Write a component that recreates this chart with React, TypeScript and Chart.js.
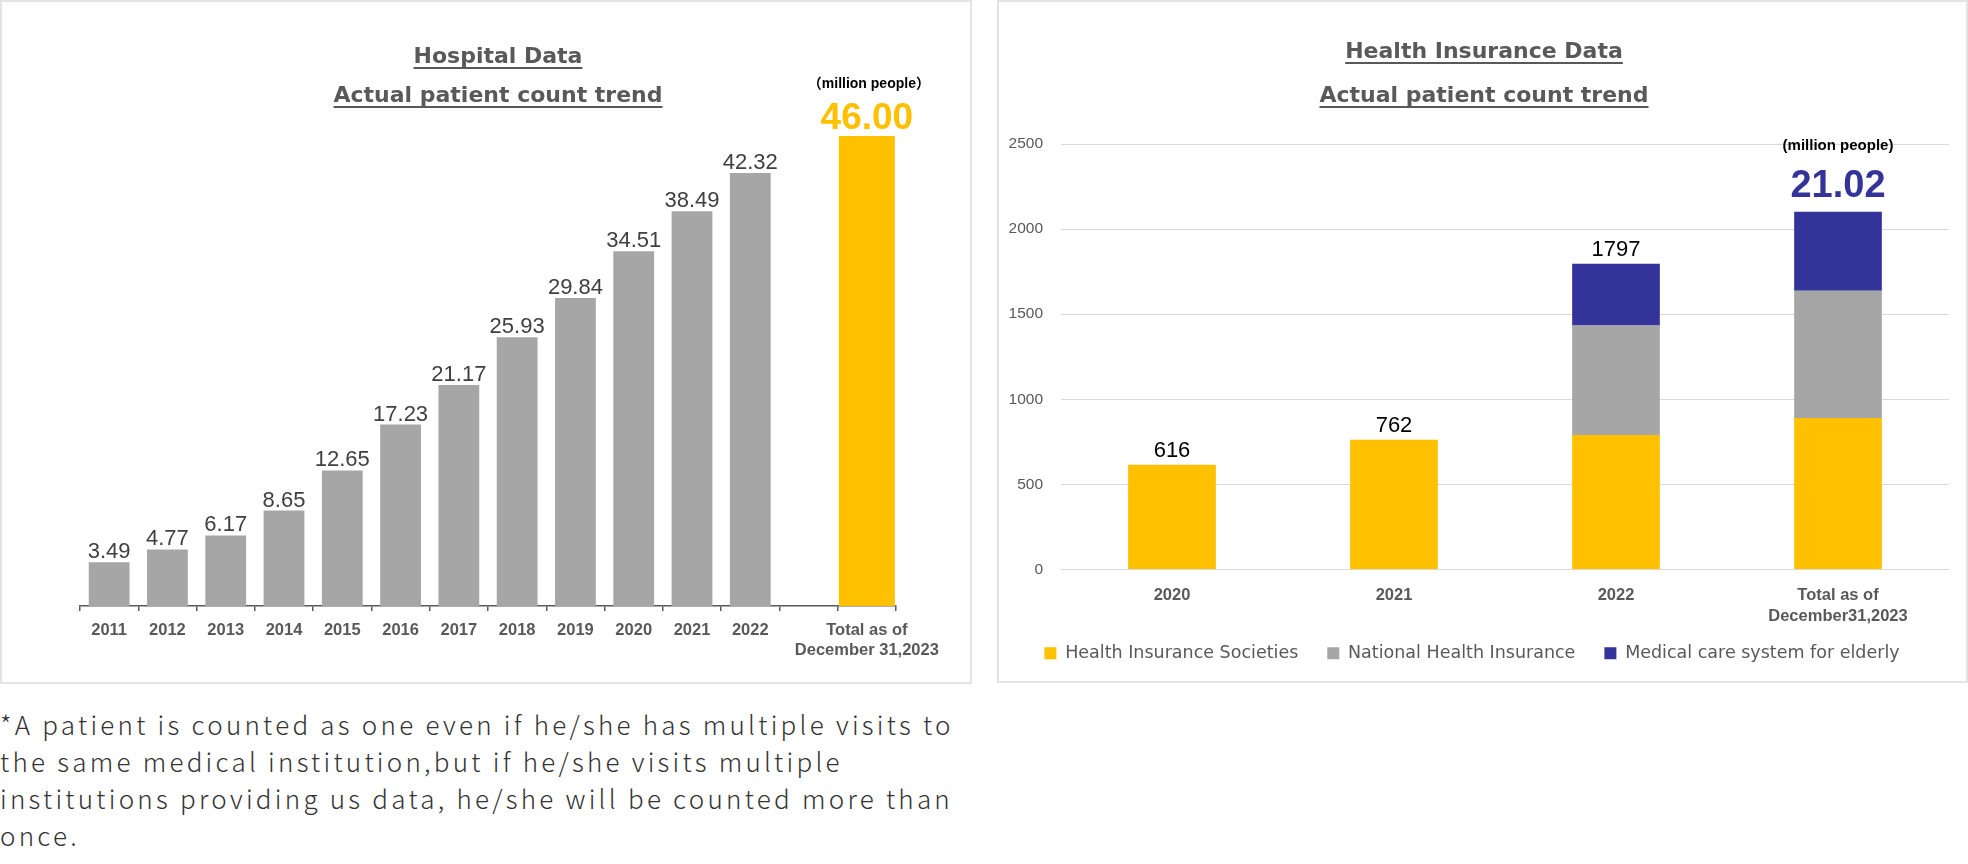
import React, { useEffect, useRef } from "react";
import { Chart, registerables } from "chart.js";

Chart.register(...registerables);

// ---------------- Data ----------------
const hospitalYears = ["2011", "2012", "2013", "2014", "2015", "2016", "2017", "2018", "2019", "2020", "2021", "2022"];
const hospitalPatients = [3.49, 4.77, 6.17, 8.65, 12.65, 17.23, 21.17, 25.93, 29.84, 34.51, 38.49, 42.32];
const hospitalTotalLabel = ["Total as of", "December 31,2023"];
const hospitalTotal = 46.0;
const hospitalUnit = "（million people）";

const insuranceCategories = ["2020", "2021", "2022", ["Total as of", "December31,2023"]];
const insuranceSocieties = [616, 762, 790, 890];
const nationalHealthInsurance = [null, null, 644, 748];
const elderlyCareSystem = [null, null, 363, 464];
const insuranceSeriesNames = ["Health Insurance Societies", "National Health Insurance", "Medical care system for elderly"];
const insuranceUnit = "(million people)";
const insuranceTicks = [0, 500, 1000, 1500, 2000, 2500];

const hospitalTitle = ["Hospital Data", "Actual patient count trend"];
const insuranceTitle = ["Health Insurance Data", "Actual patient count trend"];
const footnoteLines = [
  "*A patient is counted as one even if he/she has multiple visits to",
  "the same medical institution,but if he/she visits multiple",
  "institutions providing us data, he/she will be counted more than",
  "once.",
];

// ---------------- Styles ----------------
const LIB = "'Liberation Sans', Arial, sans-serif";
const YELLOW = "#FFC000";
const GRAY = "#A6A6A6";
const BLUE = "#333399";
const TEXT_GRAY = "#595959";

const HOSP_MIN = -0.87;
const HOSP_MAX = 46.6;

function HospitalChart() {
  const ref = useRef<HTMLCanvasElement | null>(null);
  useEffect(() => {
    if (!ref.current) return;
    const labels: any[] = [...hospitalYears, "", hospitalTotalLabel];
    const grayData: (number | null)[] = [...hospitalPatients, null, null];
    const totalData: (number | null)[] = labels.map((_, i) => (i === labels.length - 1 ? hospitalTotal : null));

    const labelPlugin = {
      id: "hospitalLabels",
      afterDatasetsDraw(chart: any) {
        const ctx = chart.ctx;
        ctx.save();
        ctx.textAlign = "center";
        ctx.textBaseline = "alphabetic";
        ctx.fillStyle = "#404040";
        ctx.font = `22px ${LIB}`;
        chart.getDatasetMeta(0).data.forEach((bar: any, i: number) => {
          const v = grayData[i];
          if (v == null) return;
          ctx.fillText(v.toFixed(2), bar.x, bar.y - 4);
        });
        const tb = chart.getDatasetMeta(1).data[labels.length - 1];
        ctx.fillStyle = YELLOW;
        ctx.font = `bold 37px ${LIB}`;
        ctx.fillText(hospitalTotal.toFixed(2), tb.x, tb.y - 7);
        ctx.fillStyle = "#000000";
        ctx.font = `bold 14px 'Liberation Sans', 'Noto Sans CJK JP', sans-serif`;
        ctx.fillText(hospitalUnit, tb.x + 2, tb.y - 48);
        ctx.restore();
      },
    };

    const chart = new Chart(ref.current, {
      type: "bar",
      data: {
        labels,
        datasets: [
          {
            label: "Hospital",
            data: grayData,
            backgroundColor: GRAY,
            barPercentage: 0.7,
            categoryPercentage: 1,
            grouped: false,
            base: HOSP_MIN,
          } as any,
          {
            label: "Total",
            data: totalData,
            backgroundColor: YELLOW,
            barPercentage: 0.96,
            categoryPercentage: 1,
            grouped: false,
            base: HOSP_MIN,
          } as any,
        ],
      },
      options: {
        responsive: false,
        animation: false,
        devicePixelRatio: 1,
        layout: { padding: { left: 80, right: 76, top: 130, bottom: 0 } },
        plugins: { legend: { display: false }, tooltip: { enabled: false }, title: { display: false } },
        scales: {
          x: {
            offset: true,
            grid: {
              display: true,
              offset: true,
              drawOnChartArea: false,
              drawTicks: true,
              tickLength: 5,
              color: "#595959",
              lineWidth: 1.5,
            },
            border: { display: true, color: "#595959", width: 1.5 },
            ticks: {
              autoSkip: false,
              maxRotation: 0,
              color: TEXT_GRAY,
              padding: 9,
              font: { family: LIB, size: 16.5, weight: "bold", lineHeight: 1.25 },
            },
            afterFit: (s: any) => {
              s.height = 77;
            },
          },
          y: { display: false, min: HOSP_MIN, max: HOSP_MAX },
        },
      } as any,
      plugins: [labelPlugin],
    });
    return () => chart.destroy();
  }, []);
  return <canvas ref={ref} width={972} height={683} style={{ position: "absolute", left: 0, top: 0 }} />;
}

function InsuranceChart() {
  const ref = useRef<HTMLCanvasElement | null>(null);
  useEffect(() => {
    if (!ref.current) return;
    const series = [insuranceSocieties, nationalHealthInsurance, elderlyCareSystem];
    const colors = [YELLOW, GRAY, BLUE];

    const labelPlugin = {
      id: "insuranceLabels",
      afterLayout(chart: any) {
        // let the two-line category label extend below the axis box (no clipping)
        chart.scales.x.bottom = chart.height;
      },
      afterDatasetsDraw(chart: any) {
        const ctx = chart.ctx;
        ctx.save();
        ctx.textAlign = "center";
        ctx.textBaseline = "alphabetic";
        const n = insuranceCategories.length;
        for (let i = 0; i < n; i++) {
          let total = 0;
          let topIdx = 0;
          series.forEach((s, d) => {
            const v = s[i];
            if (v != null) {
              total += v;
              topIdx = d;
            }
          });
          const bar = chart.getDatasetMeta(topIdx).data[i];
          if (i < n - 1) {
            ctx.fillStyle = "#000000";
            ctx.font = `22px ${LIB}`;
            ctx.fillText(String(total), bar.x, bar.y - 7.5);
          } else {
            ctx.fillStyle = BLUE;
            ctx.font = `bold 38px ${LIB}`;
            ctx.fillText((total / 100).toFixed(2), bar.x, bar.y - 14.4);
            ctx.fillStyle = "#000000";
            ctx.font = `bold 15px ${LIB}`;
            ctx.fillText(insuranceUnit, bar.x, bar.y - 62);
          }
        }
        ctx.restore();
      },
    };

    const chart = new Chart(ref.current, {
      type: "bar",
      data: {
        labels: insuranceCategories as any,
        datasets: series.map((s, d) => ({
          label: insuranceSeriesNames[d],
          data: s,
          backgroundColor: colors[d],
          barPercentage: 0.395,
          categoryPercentage: 1,
          stack: "s",
        })) as any,
      },
      options: {
        responsive: false,
        animation: false,
        devicePixelRatio: 1,
        layout: { padding: { left: 0, right: 19, top: 144, bottom: 10 } },
        plugins: {
          tooltip: { enabled: false },
          title: { display: false },
          legend: {
            display: true,
            position: "bottom",
            labels: {
              boxWidth: 12,
              boxHeight: 12,
              padding: 29,
              color: TEXT_GRAY,
              font: { family: "'DejaVu Sans', sans-serif", size: 17.5 },
            },
          },
        },
        scales: {
          x: {
            stacked: true,
            grid: { display: false, drawTicks: false },
            border: { display: false },
            ticks: {
              autoSkip: false,
              maxRotation: 0,
              color: TEXT_GRAY,
              padding: 15,
              font: { family: LIB, size: 16.5, weight: "bold", lineHeight: 1.3 },
            },
            afterFit: (s: any) => {
              s.height = 46;
            },
          },
          y: {
            stacked: true,
            min: 0,
            max: 2500,
            afterBuildTicks: (s: any) => {
              s.ticks = insuranceTicks.map((v) => ({ value: v }));
            },
            grid: { color: "#D9D9D9", lineWidth: 1, drawTicks: false },
            border: { display: false },
            ticks: {
              padding: 18,
              color: TEXT_GRAY,
              font: { family: LIB, size: 15.5 },
              callback: (v: any) => String(v),
            },
            afterFit: (s: any) => {
              s.width = 66;
            },
          },
        },
      } as any,
      plugins: [labelPlugin],
    });
    return () => chart.destroy();
  }, []);
  return <canvas ref={ref} width={973} height={682} style={{ position: "absolute", left: 995, top: 0 }} />;
}

function TitleLine({ text, center, baseline }: { text: string; center: number; baseline: number }) {
  return (
    <div
      style={{
        position: "absolute",
        left: center - 300,
        top: baseline - 22.6,
        width: 600,
        textAlign: "center",
        fontFamily: "'DejaVu Sans', sans-serif",
        fontWeight: "bold",
        fontSize: 22,
        lineHeight: "30px",
        color: TEXT_GRAY,
        whiteSpace: "nowrap",
      }}
    >
      <span
        style={{
          textDecoration: "underline",
          textDecorationThickness: "2px",
          textUnderlineOffset: "4px",
          textDecorationSkipInk: "none" as any,
        }}
      >
        {text}
      </span>
    </div>
  );
}

export default function App() {
  return (
    <div
      style={{
        position: "absolute",
        left: 0,
        top: 0,
        width: 1968,
        height: 864,
        background: "#ffffff",
        overflow: "hidden",
      }}
    >
      <div
        style={{
          position: "absolute",
          left: 0,
          top: 0,
          width: 972,
          height: 684,
          border: "2px solid #E4E4E4",
          boxSizing: "border-box",
        }}
      />
      <div
        style={{
          position: "absolute",
          left: 997,
          top: 0,
          width: 971,
          height: 683,
          border: "2px solid #E4E4E4",
          boxSizing: "border-box",
        }}
      />
      <HospitalChart />
      <InsuranceChart />
      <TitleLine text={hospitalTitle[0]} center={498} baseline={63.5} />
      <TitleLine text={hospitalTitle[1]} center={498} baseline={102.5} />
      <TitleLine text={insuranceTitle[0]} center={1484} baseline={59} />
      <TitleLine text={insuranceTitle[1]} center={1484} baseline={103} />
      <div
        style={{
          position: "absolute",
          left: 0,
          top: 705,
          fontFamily: "'Noto Sans CJK JP', 'Noto Sans', sans-serif",
          fontWeight: 300,
          fontSize: 26,
          letterSpacing: "3.25px",
          lineHeight: "37px",
          color: "#333333",
          whiteSpace: "nowrap",
        }}
      >
        {footnoteLines.map((l, i) => (
          <div key={i}>{l}</div>
        ))}
      </div>
    </div>
  );
}
